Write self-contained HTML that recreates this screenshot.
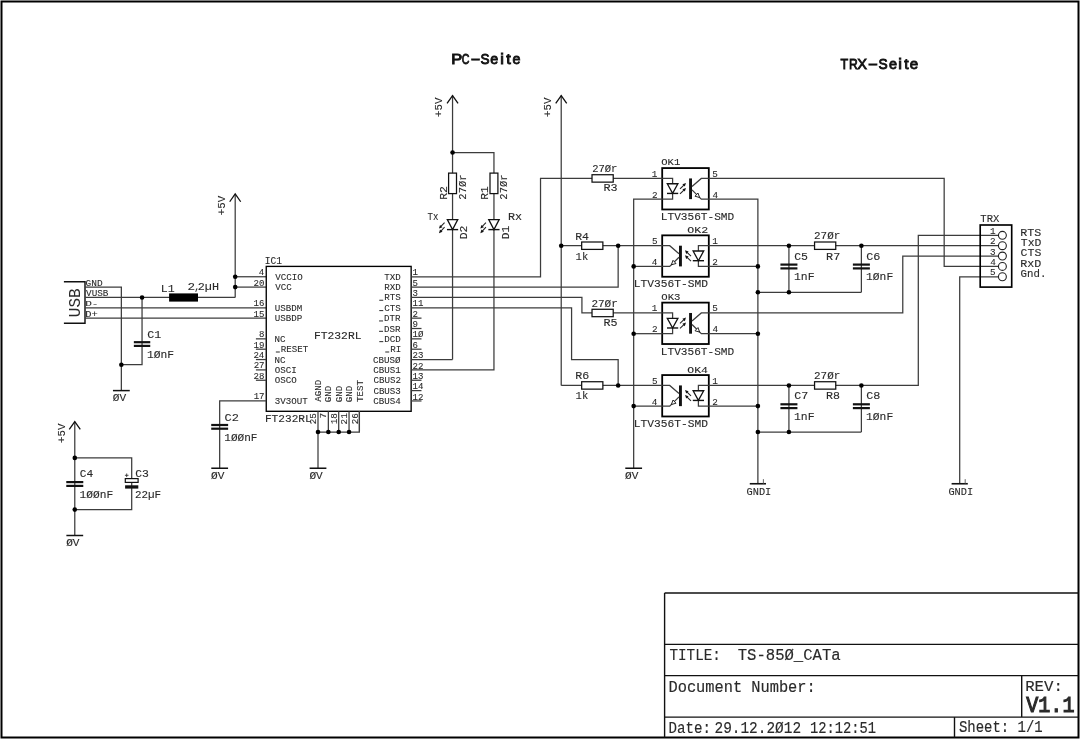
<!DOCTYPE html>
<html><head><meta charset="utf-8"><style>
html,body{margin:0;padding:0;background:#fff;width:1081px;height:740px;overflow:hidden}
svg{display:block;filter:grayscale(100%)}
</style></head><body>
<svg width="1081" height="740" viewBox="0 0 1081 740">
<rect width="1081" height="740" fill="#fff"/>
<rect x="1.5" y="1.5" width="1077" height="736" fill="none" stroke="#000" stroke-width="2"/>
<path d="M664.6 593 L1078.5 593" stroke="#111" stroke-width="1.4"/>
<path d="M664.6 593 L664.6 737.5" stroke="#111" stroke-width="1.4"/>
<path d="M664.6 644.4 L1078.5 644.4" stroke="#111" stroke-width="1.4"/>
<path d="M664.6 675.6 L1078.5 675.6" stroke="#111" stroke-width="1.4"/>
<path d="M664.6 717.1 L1078.5 717.1" stroke="#111" stroke-width="1.4"/>
<path d="M1021.7 675.6 L1021.7 717.1" stroke="#111" stroke-width="1.4"/>
<path d="M954.5 717.1 L954.5 737.5" stroke="#111" stroke-width="1.4"/>
<text transform="translate(669.47 660.3) scale(0.14306 0.16844)" font-family='"Liberation Mono"' font-weight="normal" font-size="100" fill="#2a2a2a" stroke="#2a2a2a" stroke-width="1">TITLE:</text>
<text transform="translate(737.72 660.3) scale(0.15604 0.16844)" font-family='"Liberation Mono"' font-weight="normal" font-size="100" fill="#2a2a2a" stroke="#2a2a2a" stroke-width="1">TS-85Ø_CATa</text>
<text transform="translate(668.49 691.9) scale(0.15346 0.15933)" font-family='"Liberation Mono"' font-weight="normal" font-size="100" fill="#2a2a2a" stroke="#2a2a2a" stroke-width="1">Document Number:</text>
<text transform="translate(668.58 732.6) scale(0.14151 0.15781)" font-family='"Liberation Mono"' font-weight="normal" font-size="100" fill="#2a2a2a" stroke="#2a2a2a" stroke-width="1">Date:</text>
<text transform="translate(714.48 732.6) scale(0.14437 0.15781)" font-family='"Liberation Mono"' font-weight="normal" font-size="100" fill="#2a2a2a" stroke="#2a2a2a" stroke-width="1">29.12.2Ø12</text>
<text transform="translate(810 732.6) scale(0.13782 0.15781)" font-family='"Liberation Mono"' font-weight="normal" font-size="100" fill="#2a2a2a" stroke="#2a2a2a" stroke-width="1">12:12:51</text>
<text transform="translate(958.96 732.4) scale(0.13967 0.15630)" font-family='"Liberation Mono"' font-weight="normal" font-size="100" fill="#2a2a2a" stroke="#2a2a2a" stroke-width="1">Sheet: 1/1</text>
<text transform="translate(1025.16 691.2) scale(0.15687 0.14568)" font-family='"Liberation Mono"' font-weight="normal" font-size="100" fill="#2a2a2a" stroke="#2a2a2a" stroke-width="1">REV:</text>
<text transform="translate(1026.3 711.7) scale(0.20067 0.22610)" font-family='"Liberation Mono"' font-weight="normal" font-size="100" fill="#2a2a2a" stroke="#2a2a2a" stroke-width="5">V1.1</text>
<text transform="translate(451.24 63.7) scale(0.16534 0.14826)" font-family='"Liberation Sans"' font-size="100" fill="#111" stroke="#111" stroke-width="6">P</text>
<text transform="translate(461.86 63.7) scale(0.10579 0.14826)" font-family='"Liberation Sans"' font-size="100" fill="#111" stroke="#111" stroke-width="6">C</text>
<text transform="translate(470.63 63.7) scale(0.28672 0.14826)" font-family='"Liberation Sans"' font-size="100" fill="#111" stroke="#111" stroke-width="6">-</text>
<text transform="translate(480.38 63.7) scale(0.13549 0.14826)" font-family='"Liberation Sans"' font-size="100" fill="#111" stroke="#111" stroke-width="6">S</text>
<text transform="translate(490.29 63.7) scale(0.14278 0.14826)" font-family='"Liberation Sans"' font-size="100" fill="#111" stroke="#111" stroke-width="6">e</text>
<text transform="translate(500.34 63.7) scale(0.16308 0.14826)" font-family='"Liberation Sans"' font-size="100" fill="#111" stroke="#111" stroke-width="6">i</text>
<text transform="translate(506.17 63.7) scale(0.16308 0.14826)" font-family='"Liberation Sans"' font-size="100" fill="#111" stroke="#111" stroke-width="6">t</text>
<text transform="translate(512.39 63.7) scale(0.14278 0.14826)" font-family='"Liberation Sans"' font-size="100" fill="#111" stroke="#111" stroke-width="6">e</text>
<text transform="translate(840.52 69.3) scale(0.12557 0.14971)" font-family='"Liberation Sans"' font-size="100" fill="#111" stroke="#111" stroke-width="6">T</text>
<text transform="translate(848.91 69.3) scale(0.12126 0.14971)" font-family='"Liberation Sans"' font-size="100" fill="#111" stroke="#111" stroke-width="6">R</text>
<text transform="translate(857.17 69.3) scale(0.14594 0.14971)" font-family='"Liberation Sans"' font-size="100" fill="#111" stroke="#111" stroke-width="6">X</text>
<text transform="translate(868.09 69.3) scale(0.29491 0.14971)" font-family='"Liberation Sans"' font-size="100" fill="#111" stroke="#111" stroke-width="6">-</text>
<text transform="translate(878.38 69.3) scale(0.13723 0.14971)" font-family='"Liberation Sans"' font-size="100" fill="#111" stroke="#111" stroke-width="6">S</text>
<text transform="translate(889.08 69.3) scale(0.14492 0.14971)" font-family='"Liberation Sans"' font-size="100" fill="#111" stroke="#111" stroke-width="6">e</text>
<text transform="translate(898.37 69.3) scale(0.16468 0.14971)" font-family='"Liberation Sans"' font-size="100" fill="#111" stroke="#111" stroke-width="6">i</text>
<text transform="translate(904.16 69.3) scale(0.15663 0.14971)" font-family='"Liberation Sans"' font-size="100" fill="#111" stroke="#111" stroke-width="6">t</text>
<text transform="translate(909.76 69.3) scale(0.15131 0.14971)" font-family='"Liberation Sans"' font-size="100" fill="#111" stroke="#111" stroke-width="6">e</text>
<path d="M63.9 281.7 L85 281.7 L85 323.3 L63.9 323.3" stroke="#111" stroke-width="1.45" fill="none"/>
<text transform="translate(80 316.1) rotate(-90) translate(-1.11 0) scale(0.16063 0.16085)" font-family='"Liberation Mono"' font-size="100" fill="#2a2a2a" stroke="#2a2a2a" stroke-width="0">USB</text>
<text transform="translate(85.58 285.5) scale(0.09502 0.08346)" font-family='"Liberation Mono"' font-weight="normal" font-size="100" fill="#2a2a2a" stroke="#2a2a2a" stroke-width="1">GND</text>
<text transform="translate(86.05 296.1) scale(0.09330 0.08346)" font-family='"Liberation Mono"' font-weight="normal" font-size="100" fill="#2a2a2a" stroke="#2a2a2a" stroke-width="1">VUSB</text>
<text transform="translate(85.22 306.1) scale(0.11070 0.08042)" font-family='"Liberation Mono"' font-weight="normal" font-size="100" fill="#2a2a2a" stroke="#2a2a2a" stroke-width="1">D-</text>
<text transform="translate(85.27 316.6) scale(0.10437 0.08346)" font-family='"Liberation Mono"' font-weight="normal" font-size="100" fill="#2a2a2a" stroke="#2a2a2a" stroke-width="1">D+</text>
<path d="M85.12 287.1 L121.35 287.1 L121.35 390.6" stroke="#3c3c3c" stroke-width="1.25" fill="none"/>
<path d="M112.95 390.6 L129.75 390.6" stroke="#111" stroke-width="1.5"/>
<text transform="translate(112.75 401.1) scale(0.11135 0.10470)" font-family='"Liberation Mono"' font-weight="normal" font-size="100" fill="#2a2a2a" stroke="#2a2a2a" stroke-width="1">ØV</text>
<path d="M85.12 297.45 L235.2 297.45" stroke="#3c3c3c" stroke-width="1.25" fill="none"/>
<path d="M235.2 193.95 L235.2 297.45" stroke="#3c3c3c" stroke-width="1.25" fill="none"/>
<path d="M229.7 201.75 L235.2 193.95 L240.7 201.75" stroke="#111" stroke-width="1.3" fill="none"/>
<text transform="translate(225.1 214.65) rotate(-90) translate(-0.61 0) scale(0.10758 0.10926)" font-family='"Liberation Mono"' font-size="100" fill="#2a2a2a" stroke="#2a2a2a" stroke-width="1">+5V</text>
<path d="M235.2 276.75 L266.25 276.75" stroke="#3c3c3c" stroke-width="1.25" fill="none"/>
<path d="M235.2 287.1 L266.25 287.1" stroke="#3c3c3c" stroke-width="1.25" fill="none"/>
<path d="M85.12 307.8 L266.25 307.8" stroke="#3c3c3c" stroke-width="1.25" fill="none"/>
<path d="M85.12 318.15 L266.25 318.15" stroke="#3c3c3c" stroke-width="1.25" fill="none"/>
<path d="M142.05 297.45 L142.05 364.73 L121.35 364.73" stroke="#3c3c3c" stroke-width="1.25" fill="none"/>
<rect x="133.85" y="341.1" width="16.4" height="2.2" fill="#111"/>
<rect x="133.85" y="344.8" width="16.4" height="2.2" fill="#111"/>
<text transform="translate(147.15 337.7) scale(0.11763 0.10774)" font-family='"Liberation Mono"' font-weight="normal" font-size="100" fill="#2a2a2a" stroke="#2a2a2a" stroke-width="1">C1</text>
<text transform="translate(146.98 357.9) scale(0.11294 0.10774)" font-family='"Liberation Mono"' font-weight="normal" font-size="100" fill="#2a2a2a" stroke="#2a2a2a" stroke-width="1">1ØnF</text>
<rect x="169.1" y="293.4" width="28.9" height="8.2" fill="#000"/>
<text transform="translate(160.76 291.6) scale(0.11582 0.11229)" font-family='"Liberation Mono"' font-weight="normal" font-size="100" fill="#2a2a2a" stroke="#2a2a2a" stroke-width="1">L1</text>
<text transform="translate(187.51 290.3) scale(0.12637 0.10774)" font-family='"Liberation Mono"' font-weight="normal" font-size="100" fill="#2a2a2a" stroke="#2a2a2a" stroke-width="1">2</text>
<text transform="translate(194.21 290.3) scale(0.09438 0.10774)" font-family='"Liberation Mono"' font-weight="normal" font-size="100" fill="#2a2a2a" stroke="#2a2a2a" stroke-width="1">,</text>
<text transform="translate(197.77 290.3) scale(0.11815 0.10774)" font-family='"Liberation Mono"' font-weight="normal" font-size="100" fill="#2a2a2a" stroke="#2a2a2a" stroke-width="1">2µH</text>
<rect x="266.25" y="266.4" width="144.9" height="144.9" stroke="#000" stroke-width="1.35" fill="none"/>
<text transform="translate(264.85 264.2) scale(0.09617 0.10167)" font-family='"Liberation Mono"' font-weight="normal" font-size="100" fill="#2a2a2a" stroke="#2a2a2a" stroke-width="1">IC1</text>
<text transform="translate(313.93 339.2) scale(0.11328 0.11381)" font-family='"Liberation Mono"' font-weight="normal" font-size="100" fill="#2a2a2a" stroke="#2a2a2a" stroke-width="1">FT232RL</text>
<text transform="translate(264.95 422.2) scale(0.11130 0.11077)" font-family='"Liberation Mono"' font-weight="normal" font-size="100" fill="#2a2a2a" stroke="#2a2a2a" stroke-width="1">FT232RL</text>
<text transform="translate(258.86 275.25) scale(0.09083 0.09105)" font-family='"Liberation Mono"' font-weight="normal" font-size="100" fill="#2a2a2a" stroke="#2a2a2a" stroke-width="1">4</text>
<text transform="translate(275.26 279.75) scale(0.09167 0.09256)" font-family='"Liberation Mono"' font-weight="normal" font-size="100" fill="#2a2a2a" stroke="#2a2a2a" stroke-width="1">VCCIO</text>
<text transform="translate(253.51 285.6) scale(0.09083 0.09105)" font-family='"Liberation Mono"' font-weight="normal" font-size="100" fill="#2a2a2a" stroke="#2a2a2a" stroke-width="1">20</text>
<text transform="translate(275.26 290.1) scale(0.09167 0.09256)" font-family='"Liberation Mono"' font-weight="normal" font-size="100" fill="#2a2a2a" stroke="#2a2a2a" stroke-width="1">VCC</text>
<text transform="translate(253.54 306.3) scale(0.09083 0.09105)" font-family='"Liberation Mono"' font-weight="normal" font-size="100" fill="#2a2a2a" stroke="#2a2a2a" stroke-width="1">16</text>
<text transform="translate(274.66 310.8) scale(0.09167 0.09256)" font-family='"Liberation Mono"' font-weight="normal" font-size="100" fill="#2a2a2a" stroke="#2a2a2a" stroke-width="1">USBDM</text>
<text transform="translate(253.52 316.65) scale(0.09083 0.09105)" font-family='"Liberation Mono"' font-weight="normal" font-size="100" fill="#2a2a2a" stroke="#2a2a2a" stroke-width="1">15</text>
<text transform="translate(274.66 321.15) scale(0.09167 0.09256)" font-family='"Liberation Mono"' font-weight="normal" font-size="100" fill="#2a2a2a" stroke="#2a2a2a" stroke-width="1">USBDP</text>
<path d="M255.9 338.85 L266.25 338.85" stroke="#3c3c3c" stroke-width="1.25" fill="none"/>
<text transform="translate(259 337.35) scale(0.09083 0.09105)" font-family='"Liberation Mono"' font-weight="normal" font-size="100" fill="#2a2a2a" stroke="#2a2a2a" stroke-width="1">8</text>
<text transform="translate(274.57 341.85) scale(0.09167 0.09256)" font-family='"Liberation Mono"' font-weight="normal" font-size="100" fill="#2a2a2a" stroke="#2a2a2a" stroke-width="1">NC</text>
<path d="M255.9 349.2 L266.25 349.2" stroke="#3c3c3c" stroke-width="1.25" fill="none"/>
<text transform="translate(253.58 347.7) scale(0.09083 0.09105)" font-family='"Liberation Mono"' font-weight="normal" font-size="100" fill="#2a2a2a" stroke="#2a2a2a" stroke-width="1">19</text>
<text transform="translate(275.32 352.2) scale(0.09167 0.09256)" font-family='"Liberation Mono"' font-weight="normal" font-size="100" fill="#2a2a2a" stroke="#2a2a2a" stroke-width="1"> RESET</text>
<rect x="275.85" y="351.5" width="3.96" height="1" fill="#2a2a2a"/>
<path d="M255.9 359.55 L266.25 359.55" stroke="#3c3c3c" stroke-width="1.25" fill="none"/>
<text transform="translate(253.41 358.05) scale(0.09083 0.09105)" font-family='"Liberation Mono"' font-weight="normal" font-size="100" fill="#2a2a2a" stroke="#2a2a2a" stroke-width="1">24</text>
<text transform="translate(274.57 362.55) scale(0.09167 0.09256)" font-family='"Liberation Mono"' font-weight="normal" font-size="100" fill="#2a2a2a" stroke="#2a2a2a" stroke-width="1">NC</text>
<path d="M255.9 369.9 L266.25 369.9" stroke="#3c3c3c" stroke-width="1.25" fill="none"/>
<text transform="translate(253.66 368.4) scale(0.09083 0.09105)" font-family='"Liberation Mono"' font-weight="normal" font-size="100" fill="#2a2a2a" stroke="#2a2a2a" stroke-width="1">27</text>
<text transform="translate(274.84 372.9) scale(0.09167 0.09256)" font-family='"Liberation Mono"' font-weight="normal" font-size="100" fill="#2a2a2a" stroke="#2a2a2a" stroke-width="1">OSCI</text>
<path d="M255.9 380.25 L266.25 380.25" stroke="#3c3c3c" stroke-width="1.25" fill="none"/>
<text transform="translate(253.55 378.75) scale(0.09083 0.09105)" font-family='"Liberation Mono"' font-weight="normal" font-size="100" fill="#2a2a2a" stroke="#2a2a2a" stroke-width="1">28</text>
<text transform="translate(274.84 383.25) scale(0.09167 0.09256)" font-family='"Liberation Mono"' font-weight="normal" font-size="100" fill="#2a2a2a" stroke="#2a2a2a" stroke-width="1">OSCO</text>
<text transform="translate(253.66 399.45) scale(0.09083 0.09105)" font-family='"Liberation Mono"' font-weight="normal" font-size="100" fill="#2a2a2a" stroke="#2a2a2a" stroke-width="1">17</text>
<text transform="translate(274.73 403.95) scale(0.09167 0.09256)" font-family='"Liberation Mono"' font-weight="normal" font-size="100" fill="#2a2a2a" stroke="#2a2a2a" stroke-width="1">3V3OUT</text>
<text transform="translate(412.49 275.35) scale(0.09083 0.09105)" font-family='"Liberation Mono"' font-weight="normal" font-size="100" fill="#2a2a2a" stroke="#2a2a2a" stroke-width="1">1</text>
<text transform="translate(384.26 279.75) scale(0.09167 0.09256)" font-family='"Liberation Mono"' font-weight="normal" font-size="100" fill="#2a2a2a" stroke="#2a2a2a" stroke-width="1">TXD</text>
<text transform="translate(412.58 285.7) scale(0.09083 0.09105)" font-family='"Liberation Mono"' font-weight="normal" font-size="100" fill="#2a2a2a" stroke="#2a2a2a" stroke-width="1">5</text>
<text transform="translate(384.26 290.1) scale(0.09167 0.09256)" font-family='"Liberation Mono"' font-weight="normal" font-size="100" fill="#2a2a2a" stroke="#2a2a2a" stroke-width="1">RXD</text>
<text transform="translate(412.58 296.05) scale(0.09083 0.09105)" font-family='"Liberation Mono"' font-weight="normal" font-size="100" fill="#2a2a2a" stroke="#2a2a2a" stroke-width="1">3</text>
<text transform="translate(378.75 300.45) scale(0.09167 0.09256)" font-family='"Liberation Mono"' font-weight="normal" font-size="100" fill="#2a2a2a" stroke="#2a2a2a" stroke-width="1"> RTS</text>
<rect x="379.28" y="299.75" width="3.96" height="1" fill="#2a2a2a"/>
<text transform="translate(412.49 306.4) scale(0.09083 0.09105)" font-family='"Liberation Mono"' font-weight="normal" font-size="100" fill="#2a2a2a" stroke="#2a2a2a" stroke-width="1">11</text>
<text transform="translate(378.75 310.8) scale(0.09167 0.09256)" font-family='"Liberation Mono"' font-weight="normal" font-size="100" fill="#2a2a2a" stroke="#2a2a2a" stroke-width="1"> CTS</text>
<rect x="379.28" y="310.1" width="3.96" height="1" fill="#2a2a2a"/>
<path d="M411.15 318.15 L421.5 318.15" stroke="#3c3c3c" stroke-width="1.25" fill="none"/>
<text transform="translate(412.51 316.75) scale(0.09083 0.09105)" font-family='"Liberation Mono"' font-weight="normal" font-size="100" fill="#2a2a2a" stroke="#2a2a2a" stroke-width="1">2</text>
<text transform="translate(378.53 321.15) scale(0.09167 0.09256)" font-family='"Liberation Mono"' font-weight="normal" font-size="100" fill="#2a2a2a" stroke="#2a2a2a" stroke-width="1"> DTR</text>
<rect x="379.06" y="320.45" width="3.96" height="1" fill="#2a2a2a"/>
<path d="M411.15 328.5 L421.5 328.5" stroke="#3c3c3c" stroke-width="1.25" fill="none"/>
<text transform="translate(412.52 327.1) scale(0.09083 0.09105)" font-family='"Liberation Mono"' font-weight="normal" font-size="100" fill="#2a2a2a" stroke="#2a2a2a" stroke-width="1">9</text>
<text transform="translate(378.53 331.5) scale(0.09167 0.09256)" font-family='"Liberation Mono"' font-weight="normal" font-size="100" fill="#2a2a2a" stroke="#2a2a2a" stroke-width="1"> DSR</text>
<rect x="379.06" y="330.8" width="3.96" height="1" fill="#2a2a2a"/>
<path d="M411.15 338.85 L421.5 338.85" stroke="#3c3c3c" stroke-width="1.25" fill="none"/>
<text transform="translate(412.49 337.45) scale(0.09083 0.09105)" font-family='"Liberation Mono"' font-weight="normal" font-size="100" fill="#2a2a2a" stroke="#2a2a2a" stroke-width="1">1Ø</text>
<text transform="translate(378.76 341.85) scale(0.09167 0.09256)" font-family='"Liberation Mono"' font-weight="normal" font-size="100" fill="#2a2a2a" stroke="#2a2a2a" stroke-width="1"> DCD</text>
<rect x="379.29" y="341.15" width="3.96" height="1" fill="#2a2a2a"/>
<path d="M411.15 349.2 L421.5 349.2" stroke="#3c3c3c" stroke-width="1.25" fill="none"/>
<text transform="translate(412.48 347.8) scale(0.09083 0.09105)" font-family='"Liberation Mono"' font-weight="normal" font-size="100" fill="#2a2a2a" stroke="#2a2a2a" stroke-width="1">6</text>
<text transform="translate(384.71 352.2) scale(0.09167 0.09256)" font-family='"Liberation Mono"' font-weight="normal" font-size="100" fill="#2a2a2a" stroke="#2a2a2a" stroke-width="1"> RI</text>
<rect x="385.24" y="351.5" width="3.96" height="1" fill="#2a2a2a"/>
<text transform="translate(412.51 358.15) scale(0.09083 0.09105)" font-family='"Liberation Mono"' font-weight="normal" font-size="100" fill="#2a2a2a" stroke="#2a2a2a" stroke-width="1">23</text>
<text transform="translate(373.06 362.55) scale(0.09167 0.09256)" font-family='"Liberation Mono"' font-weight="normal" font-size="100" fill="#2a2a2a" stroke="#2a2a2a" stroke-width="1">CBUSØ</text>
<text transform="translate(412.51 368.5) scale(0.09083 0.09105)" font-family='"Liberation Mono"' font-weight="normal" font-size="100" fill="#2a2a2a" stroke="#2a2a2a" stroke-width="1">22</text>
<text transform="translate(373.24 372.9) scale(0.09167 0.09256)" font-family='"Liberation Mono"' font-weight="normal" font-size="100" fill="#2a2a2a" stroke="#2a2a2a" stroke-width="1">CBUS1</text>
<path d="M411.15 380.25 L421.5 380.25" stroke="#3c3c3c" stroke-width="1.25" fill="none"/>
<text transform="translate(412.49 378.85) scale(0.09083 0.09105)" font-family='"Liberation Mono"' font-weight="normal" font-size="100" fill="#2a2a2a" stroke="#2a2a2a" stroke-width="1">13</text>
<text transform="translate(373.44 383.25) scale(0.09167 0.09256)" font-family='"Liberation Mono"' font-weight="normal" font-size="100" fill="#2a2a2a" stroke="#2a2a2a" stroke-width="1">CBUS2</text>
<path d="M411.15 390.6 L421.5 390.6" stroke="#3c3c3c" stroke-width="1.25" fill="none"/>
<text transform="translate(412.49 389.2) scale(0.09083 0.09105)" font-family='"Liberation Mono"' font-weight="normal" font-size="100" fill="#2a2a2a" stroke="#2a2a2a" stroke-width="1">14</text>
<text transform="translate(373.38 393.6) scale(0.09167 0.09256)" font-family='"Liberation Mono"' font-weight="normal" font-size="100" fill="#2a2a2a" stroke="#2a2a2a" stroke-width="1">CBUS3</text>
<path d="M411.15 400.95 L421.5 400.95" stroke="#3c3c3c" stroke-width="1.25" fill="none"/>
<text transform="translate(412.49 399.55) scale(0.09083 0.09105)" font-family='"Liberation Mono"' font-weight="normal" font-size="100" fill="#2a2a2a" stroke="#2a2a2a" stroke-width="1">12</text>
<text transform="translate(373.26 403.95) scale(0.09167 0.09256)" font-family='"Liberation Mono"' font-weight="normal" font-size="100" fill="#2a2a2a" stroke="#2a2a2a" stroke-width="1">CBUS4</text>
<path d="M318 411.3 L318 432" stroke="#3c3c3c" stroke-width="1.25" fill="none"/>
<text transform="translate(316.1 423.65) rotate(-90) translate(-0.66 0) scale(0.09333 0.09105)" font-family='"Liberation Mono"' font-size="100" fill="#2a2a2a" stroke="#2a2a2a" stroke-width="1">25</text>
<text transform="translate(321.1 401.7) rotate(-90) translate(-0 0) scale(0.09167 0.09105)" font-family='"Liberation Mono"' font-size="100" fill="#2a2a2a" stroke="#2a2a2a" stroke-width="1">AGND</text>
<path d="M328.35 411.3 L328.35 432" stroke="#3c3c3c" stroke-width="1.25" fill="none"/>
<text transform="translate(326.45 417.85) rotate(-90) translate(-0.72 0) scale(0.09333 0.09105)" font-family='"Liberation Mono"' font-size="100" fill="#2a2a2a" stroke="#2a2a2a" stroke-width="1">7</text>
<text transform="translate(331.45 401.7) rotate(-90) translate(-0.51 0) scale(0.09167 0.09105)" font-family='"Liberation Mono"' font-size="100" fill="#2a2a2a" stroke="#2a2a2a" stroke-width="1">GND</text>
<path d="M338.7 411.3 L338.7 432" stroke="#3c3c3c" stroke-width="1.25" fill="none"/>
<text transform="translate(336.8 423.61) rotate(-90) translate(-0.67 0) scale(0.09333 0.09105)" font-family='"Liberation Mono"' font-size="100" fill="#2a2a2a" stroke="#2a2a2a" stroke-width="1">18</text>
<text transform="translate(341.8 401.7) rotate(-90) translate(-0.51 0) scale(0.09167 0.09105)" font-family='"Liberation Mono"' font-size="100" fill="#2a2a2a" stroke="#2a2a2a" stroke-width="1">GND</text>
<path d="M349.05 411.3 L349.05 432" stroke="#3c3c3c" stroke-width="1.25" fill="none"/>
<text transform="translate(347.15 423.79) rotate(-90) translate(-0.66 0) scale(0.09333 0.09105)" font-family='"Liberation Mono"' font-size="100" fill="#2a2a2a" stroke="#2a2a2a" stroke-width="1">21</text>
<text transform="translate(352.15 401.7) rotate(-90) translate(-0.51 0) scale(0.09167 0.09105)" font-family='"Liberation Mono"' font-size="100" fill="#2a2a2a" stroke="#2a2a2a" stroke-width="1">GND</text>
<path d="M359.4 411.3 L359.4 432" stroke="#3c3c3c" stroke-width="1.25" fill="none"/>
<text transform="translate(357.5 423.64) rotate(-90) translate(-0.66 0) scale(0.09333 0.09105)" font-family='"Liberation Mono"' font-size="100" fill="#2a2a2a" stroke="#2a2a2a" stroke-width="1">26</text>
<text transform="translate(362.5 401.7) rotate(-90) translate(-0.34 0) scale(0.09167 0.09105)" font-family='"Liberation Mono"' font-size="100" fill="#2a2a2a" stroke="#2a2a2a" stroke-width="1">TEST</text>
<path d="M318 432 L359.4 432 L359.4 411.3" stroke="#3c3c3c" stroke-width="1.25" fill="none"/>
<path d="M318 432 L318 468.23" stroke="#3c3c3c" stroke-width="1.25" fill="none"/>
<path d="M309.6 468.23 L326.4 468.23" stroke="#111" stroke-width="1.5"/>
<text transform="translate(309.4 478.73) scale(0.11135 0.10470)" font-family='"Liberation Mono"' font-weight="normal" font-size="100" fill="#2a2a2a" stroke="#2a2a2a" stroke-width="1">ØV</text>
<path d="M266.25 400.95 L219.67 400.95 L219.67 468.23" stroke="#3c3c3c" stroke-width="1.25" fill="none"/>
<rect x="211.22" y="423.9" width="16.9" height="2.2" fill="#111"/>
<rect x="211.22" y="427.6" width="16.9" height="2.2" fill="#111"/>
<path d="M211.27 468.23 L228.07 468.23" stroke="#111" stroke-width="1.5"/>
<text transform="translate(211.07 478.73) scale(0.11135 0.10470)" font-family='"Liberation Mono"' font-weight="normal" font-size="100" fill="#2a2a2a" stroke="#2a2a2a" stroke-width="1">ØV</text>
<text transform="translate(224.44 420.7) scale(0.12009 0.11077)" font-family='"Liberation Mono"' font-weight="normal" font-size="100" fill="#2a2a2a" stroke="#2a2a2a" stroke-width="1">C2</text>
<text transform="translate(224.3 440.9) scale(0.11057 0.11077)" font-family='"Liberation Mono"' font-weight="normal" font-size="100" fill="#2a2a2a" stroke="#2a2a2a" stroke-width="1">1ØØnF</text>
<path d="M74.78 421.65 L74.78 535.5" stroke="#3c3c3c" stroke-width="1.25" fill="none"/>
<path d="M69.28 429.45 L74.78 421.65 L80.28 429.45" stroke="#111" stroke-width="1.3" fill="none"/>
<text transform="translate(64.68 442.35) rotate(-90) translate(-0.61 0) scale(0.10758 0.10926)" font-family='"Liberation Mono"' font-size="100" fill="#2a2a2a" stroke="#2a2a2a" stroke-width="1">+5V</text>
<path d="M74.78 457.88 L131.7 457.88 L131.7 509.62 L74.78 509.62" stroke="#3c3c3c" stroke-width="1.25" fill="none"/>
<rect x="66.28" y="481" width="17" height="2.2" fill="#111"/>
<rect x="66.28" y="484.8" width="17" height="2.2" fill="#111"/>
<rect x="125.3" y="478.6" width="12.8" height="3.8" fill="#fff" stroke="#111" stroke-width="1.2"/>
<rect x="125.1" y="485.3" width="13.2" height="3.3" fill="#111"/>
<path d="M124.9 475.3 H128.5 M126.7 473.5 V477.1" stroke="#333" stroke-width="0.9"/>
<path d="M66.38 535.5 L83.18 535.5" stroke="#111" stroke-width="1.5"/>
<text transform="translate(66.17 546) scale(0.11135 0.10470)" font-family='"Liberation Mono"' font-weight="normal" font-size="100" fill="#2a2a2a" stroke="#2a2a2a" stroke-width="1">ØV</text>
<text transform="translate(79.78 477.4) scale(0.11149 0.10470)" font-family='"Liberation Mono"' font-weight="normal" font-size="100" fill="#2a2a2a" stroke="#2a2a2a" stroke-width="1">C4</text>
<text transform="translate(79.59 498) scale(0.11197 0.10926)" font-family='"Liberation Mono"' font-weight="normal" font-size="100" fill="#2a2a2a" stroke="#2a2a2a" stroke-width="1">1ØØnF</text>
<text transform="translate(135.17 477.4) scale(0.11465 0.10470)" font-family='"Liberation Mono"' font-weight="normal" font-size="100" fill="#2a2a2a" stroke="#2a2a2a" stroke-width="1">C3</text>
<text transform="translate(135.03 497.8) scale(0.10886 0.10622)" font-family='"Liberation Mono"' font-weight="normal" font-size="100" fill="#2a2a2a" stroke="#2a2a2a" stroke-width="1">22µF</text>
<path d="M452.55 95.62 L452.55 359.55" stroke="#3c3c3c" stroke-width="1.25" fill="none"/>
<path d="M447.05 103.42 L452.55 95.62 L458.05 103.42" stroke="#111" stroke-width="1.3" fill="none"/>
<text transform="translate(442.45 116.33) rotate(-90) translate(-0.61 0) scale(0.10758 0.10926)" font-family='"Liberation Mono"' font-size="100" fill="#2a2a2a" stroke="#2a2a2a" stroke-width="1">+5V</text>
<path d="M452.55 359.55 L411.15 359.55" stroke="#3c3c3c" stroke-width="1.25" fill="none"/>
<path d="M452.55 152.55 L493.95 152.55 L493.95 369.9 L411.15 369.9" stroke="#3c3c3c" stroke-width="1.25" fill="none"/>
<rect x="448.6" y="173.1" width="7.9" height="20.5" fill="#fff" stroke="#111" stroke-width="1.25"/>
<path d="M447.35 219.6 H457.75 L452.55 229.6 Z" fill="#fff" stroke="#111" stroke-width="1.3"/>
<path d="M446.95 229.6 L458.15 229.6" stroke="#111" stroke-width="1.4"/>
<path d="M444.55 222.6 L440.93 226.48" stroke="#222" stroke-width="1.05"/>
<path d="M438.95 228.6 L440.03 224.95 L442.51 227.27 Z" fill="#111"/>
<path d="M444.55 227.2 L440.93 231.08" stroke="#222" stroke-width="1.05"/>
<path d="M438.95 233.2 L440.03 229.55 L442.51 231.87 Z" fill="#111"/>
<rect x="490" y="173.1" width="7.9" height="20.5" fill="#fff" stroke="#111" stroke-width="1.25"/>
<path d="M488.75 219.6 H499.15 L493.95 229.6 Z" fill="#fff" stroke="#111" stroke-width="1.3"/>
<path d="M488.35 229.6 L499.55 229.6" stroke="#111" stroke-width="1.4"/>
<path d="M485.95 222.6 L482.33 226.48" stroke="#222" stroke-width="1.05"/>
<path d="M480.35 228.6 L481.43 224.95 L483.91 227.27 Z" fill="#111"/>
<path d="M485.95 227.2 L482.33 231.08" stroke="#222" stroke-width="1.05"/>
<path d="M480.35 233.2 L481.43 229.55 L483.91 231.87 Z" fill="#111"/>
<text transform="translate(447 198.9) rotate(-90) translate(-0.91 0) scale(0.11521 0.10622)" font-family='"Liberation Mono"' font-size="100" fill="#2a2a2a" stroke="#2a2a2a" stroke-width="1">R2</text>
<text transform="translate(466 198.9) rotate(-90) translate(-0.74 0) scale(0.10490 0.11229)" font-family='"Liberation Mono"' font-size="100" fill="#2a2a2a" stroke="#2a2a2a" stroke-width="1">27Ør</text>
<text transform="translate(487.7 198.9) rotate(-90) translate(-0.89 0) scale(0.11279 0.10774)" font-family='"Liberation Mono"' font-size="100" fill="#2a2a2a" stroke="#2a2a2a" stroke-width="1">R1</text>
<text transform="translate(507 198.9) rotate(-90) translate(-0.74 0) scale(0.10490 0.10622)" font-family='"Liberation Mono"' font-size="100" fill="#2a2a2a" stroke="#2a2a2a" stroke-width="1">27Ør</text>
<text transform="translate(427.56 219.6) scale(0.09048 0.10774)" font-family='"Liberation Mono"' font-weight="normal" font-size="100" fill="#2a2a2a" stroke="#2a2a2a" stroke-width="1">Tx</text>
<text transform="translate(508.07 219.6) scale(0.11729 0.10774)" font-family='"Liberation Mono"' font-weight="normal" font-size="100" fill="#2a2a2a" stroke="#2a2a2a" stroke-width="1">Rx</text>
<text transform="translate(467 238.4) rotate(-90) translate(-0.9 0) scale(0.11425 0.11684)" font-family='"Liberation Mono"' font-size="100" fill="#2a2a2a" stroke="#2a2a2a" stroke-width="1">D2</text>
<text transform="translate(508.8 238.4) rotate(-90) translate(-0.88 0) scale(0.11186 0.11836)" font-family='"Liberation Mono"' font-size="100" fill="#2a2a2a" stroke="#2a2a2a" stroke-width="1">D1</text>
<rect x="662.2" y="168.07" width="46.6" height="41.4" stroke="#000" stroke-width="1.8" fill="none"/>
<path d="M662.2 178.43 L672.6 178.43 L672.6 199.12 L662.2 199.12" stroke="#3c3c3c" stroke-width="1.25" fill="none"/>
<path d="M667.3 183.73 H677.9 L672.6 193.43 Z" fill="#fff" stroke="#111" stroke-width="1.3"/>
<path d="M667 193.43 L678.2 193.43" stroke="#111" stroke-width="1.4"/>
<path d="M680 188.93 L683.93 185.06" stroke="#222" stroke-width="1.05"/>
<path d="M686 183.03 L684.77 186.62 L682.38 184.2 Z" fill="#111"/>
<path d="M680 193.93 L683.93 190.06" stroke="#222" stroke-width="1.05"/>
<path d="M686 188.03 L684.77 191.62 L682.38 189.2 Z" fill="#111"/>
<rect x="689.1" y="178.43" width="2.9" height="20.7" fill="#111"/>
<path d="M692 186.53 L701.3 178.43 L708.8 178.43" stroke="#3c3c3c" stroke-width="1.25" fill="none"/>
<path d="M692 189.93 L701.3 199.12 L708.8 199.12" stroke="#3c3c3c" stroke-width="1.25" fill="none"/>
<path d="M699.6 197.53 L695 196.22 L698 193.03 Z" fill="#fff" stroke="#111" stroke-width="0.9"/>
<text transform="translate(651.75 176.93) scale(0.09333 0.08649)" font-family='"Liberation Mono"' font-weight="normal" font-size="100" fill="#2a2a2a" stroke="#2a2a2a" stroke-width="1">1</text>
<text transform="translate(651.96 197.62) scale(0.09333 0.08649)" font-family='"Liberation Mono"' font-weight="normal" font-size="100" fill="#2a2a2a" stroke="#2a2a2a" stroke-width="1">2</text>
<text transform="translate(712.32 176.93) scale(0.09333 0.08649)" font-family='"Liberation Mono"' font-weight="normal" font-size="100" fill="#2a2a2a" stroke="#2a2a2a" stroke-width="1">5</text>
<text transform="translate(712.43 197.62) scale(0.09333 0.08649)" font-family='"Liberation Mono"' font-weight="normal" font-size="100" fill="#2a2a2a" stroke="#2a2a2a" stroke-width="1">4</text>
<text transform="translate(661.27 165.47) scale(0.10575 0.09408)" font-family='"Liberation Mono"' font-weight="normal" font-size="100" fill="#2a2a2a" stroke="#2a2a2a" stroke-width="1">OK1</text>
<text transform="translate(660.81 220.18) scale(0.11127 0.10167)" font-family='"Liberation Mono"' font-weight="normal" font-size="100" fill="#2a2a2a" stroke="#2a2a2a" stroke-width="1">LTV356T-SMD</text>
<rect x="662.2" y="235.35" width="46.6" height="41.4" stroke="#000" stroke-width="1.8" fill="none"/>
<path d="M708.8 245.7 L698.4 245.7 L698.4 266.4 L708.8 266.4" stroke="#3c3c3c" stroke-width="1.25" fill="none"/>
<path d="M693.1 251 H703.7 L698.4 260.7 Z" fill="#fff" stroke="#111" stroke-width="1.3"/>
<path d="M692.8 260.7 L704 260.7" stroke="#111" stroke-width="1.4"/>
<path d="M691 256.2 L687.07 252.33" stroke="#222" stroke-width="1.05"/>
<path d="M685 250.3 L688.62 251.47 L686.23 253.9 Z" fill="#111"/>
<path d="M691 261.2 L687.07 257.33" stroke="#222" stroke-width="1.05"/>
<path d="M685 255.3 L688.62 256.47 L686.23 258.9 Z" fill="#111"/>
<rect x="679" y="245.7" width="2.9" height="20.7" fill="#111"/>
<path d="M679 253.8 L669.7 245.7 L662.2 245.7" stroke="#3c3c3c" stroke-width="1.25" fill="none"/>
<path d="M679 257.2 L669.7 266.4 L662.2 266.4" stroke="#3c3c3c" stroke-width="1.25" fill="none"/>
<path d="M671.4 264.8 L676 263.5 L673 260.3 Z" fill="#fff" stroke="#111" stroke-width="0.9"/>
<text transform="translate(651.89 244.2) scale(0.09333 0.08649)" font-family='"Liberation Mono"' font-weight="normal" font-size="100" fill="#2a2a2a" stroke="#2a2a2a" stroke-width="1">5</text>
<text transform="translate(651.77 264.9) scale(0.09333 0.08649)" font-family='"Liberation Mono"' font-weight="normal" font-size="100" fill="#2a2a2a" stroke="#2a2a2a" stroke-width="1">4</text>
<text transform="translate(712.23 244.2) scale(0.09333 0.08649)" font-family='"Liberation Mono"' font-weight="normal" font-size="100" fill="#2a2a2a" stroke="#2a2a2a" stroke-width="1">1</text>
<text transform="translate(712.24 264.9) scale(0.09333 0.08649)" font-family='"Liberation Mono"' font-weight="normal" font-size="100" fill="#2a2a2a" stroke="#2a2a2a" stroke-width="1">2</text>
<text transform="translate(687.32 232.95) scale(0.11609 0.09712)" font-family='"Liberation Mono"' font-weight="normal" font-size="100" fill="#2a2a2a" stroke="#2a2a2a" stroke-width="1">OK2</text>
<text transform="translate(633.8 287.15) scale(0.11236 0.10167)" font-family='"Liberation Mono"' font-weight="normal" font-size="100" fill="#2a2a2a" stroke="#2a2a2a" stroke-width="1">LTV356T-SMD</text>
<rect x="662.2" y="302.62" width="46.6" height="41.4" stroke="#000" stroke-width="1.8" fill="none"/>
<path d="M662.2 312.98 L672.6 312.98 L672.6 333.68 L662.2 333.68" stroke="#3c3c3c" stroke-width="1.25" fill="none"/>
<path d="M667.3 318.28 H677.9 L672.6 327.98 Z" fill="#fff" stroke="#111" stroke-width="1.3"/>
<path d="M667 327.98 L678.2 327.98" stroke="#111" stroke-width="1.4"/>
<path d="M680 323.48 L683.93 319.61" stroke="#222" stroke-width="1.05"/>
<path d="M686 317.58 L684.77 321.17 L682.38 318.75 Z" fill="#111"/>
<path d="M680 328.48 L683.93 324.61" stroke="#222" stroke-width="1.05"/>
<path d="M686 322.58 L684.77 326.17 L682.38 323.75 Z" fill="#111"/>
<rect x="689.1" y="312.98" width="2.9" height="20.7" fill="#111"/>
<path d="M692 321.08 L701.3 312.98 L708.8 312.98" stroke="#3c3c3c" stroke-width="1.25" fill="none"/>
<path d="M692 324.48 L701.3 333.68 L708.8 333.68" stroke="#3c3c3c" stroke-width="1.25" fill="none"/>
<path d="M699.6 332.07 L695 330.77 L698 327.57 Z" fill="#fff" stroke="#111" stroke-width="0.9"/>
<text transform="translate(651.75 311.48) scale(0.09333 0.08649)" font-family='"Liberation Mono"' font-weight="normal" font-size="100" fill="#2a2a2a" stroke="#2a2a2a" stroke-width="1">1</text>
<text transform="translate(651.96 332.18) scale(0.09333 0.08649)" font-family='"Liberation Mono"' font-weight="normal" font-size="100" fill="#2a2a2a" stroke="#2a2a2a" stroke-width="1">2</text>
<text transform="translate(712.32 311.48) scale(0.09333 0.08649)" font-family='"Liberation Mono"' font-weight="normal" font-size="100" fill="#2a2a2a" stroke="#2a2a2a" stroke-width="1">5</text>
<text transform="translate(712.43 332.18) scale(0.09333 0.08649)" font-family='"Liberation Mono"' font-weight="normal" font-size="100" fill="#2a2a2a" stroke="#2a2a2a" stroke-width="1">4</text>
<text transform="translate(661.27 300.02) scale(0.10670 0.09408)" font-family='"Liberation Mono"' font-weight="normal" font-size="100" fill="#2a2a2a" stroke="#2a2a2a" stroke-width="1">OK3</text>
<text transform="translate(660.81 354.72) scale(0.11127 0.10167)" font-family='"Liberation Mono"' font-weight="normal" font-size="100" fill="#2a2a2a" stroke="#2a2a2a" stroke-width="1">LTV356T-SMD</text>
<rect x="662.2" y="375.07" width="46.6" height="41.4" stroke="#000" stroke-width="1.8" fill="none"/>
<path d="M708.8 385.43 L698.4 385.43 L698.4 406.12 L708.8 406.12" stroke="#3c3c3c" stroke-width="1.25" fill="none"/>
<path d="M693.1 390.73 H703.7 L698.4 400.43 Z" fill="#fff" stroke="#111" stroke-width="1.3"/>
<path d="M692.8 400.43 L704 400.43" stroke="#111" stroke-width="1.4"/>
<path d="M691 395.93 L687.07 392.06" stroke="#222" stroke-width="1.05"/>
<path d="M685 390.03 L688.62 391.2 L686.23 393.62 Z" fill="#111"/>
<path d="M691 400.93 L687.07 397.06" stroke="#222" stroke-width="1.05"/>
<path d="M685 395.03 L688.62 396.2 L686.23 398.62 Z" fill="#111"/>
<rect x="679" y="385.43" width="2.9" height="20.7" fill="#111"/>
<path d="M679 393.53 L669.7 385.43 L662.2 385.43" stroke="#3c3c3c" stroke-width="1.25" fill="none"/>
<path d="M679 396.93 L669.7 406.12 L662.2 406.12" stroke="#3c3c3c" stroke-width="1.25" fill="none"/>
<path d="M671.4 404.52 L676 403.22 L673 400.02 Z" fill="#fff" stroke="#111" stroke-width="0.9"/>
<text transform="translate(651.89 383.93) scale(0.09333 0.08649)" font-family='"Liberation Mono"' font-weight="normal" font-size="100" fill="#2a2a2a" stroke="#2a2a2a" stroke-width="1">5</text>
<text transform="translate(651.77 404.62) scale(0.09333 0.08649)" font-family='"Liberation Mono"' font-weight="normal" font-size="100" fill="#2a2a2a" stroke="#2a2a2a" stroke-width="1">4</text>
<text transform="translate(712.23 383.93) scale(0.09333 0.08649)" font-family='"Liberation Mono"' font-weight="normal" font-size="100" fill="#2a2a2a" stroke="#2a2a2a" stroke-width="1">1</text>
<text transform="translate(712.24 404.62) scale(0.09333 0.08649)" font-family='"Liberation Mono"' font-weight="normal" font-size="100" fill="#2a2a2a" stroke="#2a2a2a" stroke-width="1">2</text>
<text transform="translate(687.33 372.68) scale(0.11473 0.09712)" font-family='"Liberation Mono"' font-weight="normal" font-size="100" fill="#2a2a2a" stroke="#2a2a2a" stroke-width="1">OK4</text>
<text transform="translate(633.8 426.88) scale(0.11236 0.10167)" font-family='"Liberation Mono"' font-weight="normal" font-size="100" fill="#2a2a2a" stroke="#2a2a2a" stroke-width="1">LTV356T-SMD</text>
<path d="M411.15 276.75 L540.52 276.75 L540.52 178.43 L662.14 178.43" stroke="#3c3c3c" stroke-width="1.25" fill="none"/>
<rect x="592.02" y="174.73" width="21.2" height="7.4" fill="#fff" stroke="#111" stroke-width="1.25"/>
<path d="M561.22 95.62 L561.22 385.43" stroke="#3c3c3c" stroke-width="1.25" fill="none"/>
<path d="M555.72 103.42 L561.22 95.62 L566.72 103.42" stroke="#111" stroke-width="1.3" fill="none"/>
<text transform="translate(551.12 116.33) rotate(-90) translate(-0.61 0) scale(0.10758 0.10926)" font-family='"Liberation Mono"' font-size="100" fill="#2a2a2a" stroke="#2a2a2a" stroke-width="1">+5V</text>
<path d="M561.22 385.43 L662.14 385.43" stroke="#3c3c3c" stroke-width="1.25" fill="none"/>
<rect x="581.67" y="381.73" width="21.2" height="7.4" fill="#fff" stroke="#111" stroke-width="1.25"/>
<path d="M561.22 245.7 L662.14 245.7" stroke="#3c3c3c" stroke-width="1.25" fill="none"/>
<rect x="581.67" y="242" width="21.2" height="7.4" fill="#fff" stroke="#111" stroke-width="1.25"/>
<path d="M618.15 245.7 L618.15 287.1 L411.15 287.1" stroke="#3c3c3c" stroke-width="1.25" fill="none"/>
<path d="M411.15 297.45 L581.92 297.45 L581.92 312.98 L662.14 312.98" stroke="#3c3c3c" stroke-width="1.25" fill="none"/>
<rect x="592.02" y="309.28" width="21.2" height="7.4" fill="#fff" stroke="#111" stroke-width="1.25"/>
<path d="M411.15 307.8 L571.58 307.8 L571.58 359.55 L618.15 359.55 L618.15 385.43" stroke="#3c3c3c" stroke-width="1.25" fill="none"/>
<path d="M662.14 199.12 L633.67 199.12 L633.67 468.23" stroke="#3c3c3c" stroke-width="1.25" fill="none"/>
<path d="M633.67 266.4 L662.14 266.4" stroke="#3c3c3c" stroke-width="1.25" fill="none"/>
<path d="M633.67 333.68 L662.14 333.68" stroke="#3c3c3c" stroke-width="1.25" fill="none"/>
<path d="M633.67 406.12 L662.14 406.12" stroke="#3c3c3c" stroke-width="1.25" fill="none"/>
<path d="M625.27 468.23 L642.07 468.23" stroke="#111" stroke-width="1.5"/>
<text transform="translate(625.07 478.73) scale(0.11135 0.10470)" font-family='"Liberation Mono"' font-weight="normal" font-size="100" fill="#2a2a2a" stroke="#2a2a2a" stroke-width="1">ØV</text>
<text transform="translate(592.16 172.1) scale(0.10535 0.10470)" font-family='"Liberation Mono"' font-weight="normal" font-size="100" fill="#2a2a2a" stroke="#2a2a2a" stroke-width="1">27Ør</text>
<text transform="translate(603.47 191.3) scale(0.11819 0.10470)" font-family='"Liberation Mono"' font-weight="normal" font-size="100" fill="#2a2a2a" stroke="#2a2a2a" stroke-width="1">R3</text>
<text transform="translate(591.43 307) scale(0.10981 0.10774)" font-family='"Liberation Mono"' font-weight="normal" font-size="100" fill="#2a2a2a" stroke="#2a2a2a" stroke-width="1">27Ør</text>
<text transform="translate(603.47 326.4) scale(0.11724 0.10167)" font-family='"Liberation Mono"' font-weight="normal" font-size="100" fill="#2a2a2a" stroke="#2a2a2a" stroke-width="1">R5</text>
<text transform="translate(575.19 239.6) scale(0.11492 0.10319)" font-family='"Liberation Mono"' font-weight="normal" font-size="100" fill="#2a2a2a" stroke="#2a2a2a" stroke-width="1">R4</text>
<text transform="translate(575.54 259.5) scale(0.10583 0.10470)" font-family='"Liberation Mono"' font-weight="normal" font-size="100" fill="#2a2a2a" stroke="#2a2a2a" stroke-width="1">1k</text>
<text transform="translate(575.18 379.3) scale(0.11646 0.10319)" font-family='"Liberation Mono"' font-weight="normal" font-size="100" fill="#2a2a2a" stroke="#2a2a2a" stroke-width="1">R6</text>
<text transform="translate(575.54 399.2) scale(0.10583 0.10470)" font-family='"Liberation Mono"' font-weight="normal" font-size="100" fill="#2a2a2a" stroke="#2a2a2a" stroke-width="1">1k</text>
<path d="M708.71 178.43 L944.17 178.43 L944.17 266.4 L998.51 266.4" stroke="#3c3c3c" stroke-width="1.25" fill="none"/>
<path d="M708.71 199.12 L757.88 199.12 L757.88 483.75" stroke="#3c3c3c" stroke-width="1.25" fill="none"/>
<path d="M708.71 245.7 L998.51 245.7" stroke="#3c3c3c" stroke-width="1.25" fill="none"/>
<rect x="814.55" y="242" width="21.2" height="7.4" fill="#fff" stroke="#111" stroke-width="1.25"/>
<path d="M708.71 266.4 L757.88 266.4" stroke="#3c3c3c" stroke-width="1.25" fill="none"/>
<path d="M788.92 245.7 L788.92 292.27" stroke="#3c3c3c" stroke-width="1.25" fill="none"/>
<path d="M861.38 245.7 L861.38 292.27" stroke="#3c3c3c" stroke-width="1.25" fill="none"/>
<path d="M757.88 292.27 L861.38 292.27" stroke="#3c3c3c" stroke-width="1.25" fill="none"/>
<rect x="780.42" y="263.5" width="17" height="2.2" fill="#111"/>
<rect x="780.42" y="267.3" width="17" height="2.2" fill="#111"/>
<rect x="852.88" y="263.5" width="17" height="2.2" fill="#111"/>
<rect x="852.88" y="267.3" width="17" height="2.2" fill="#111"/>
<path d="M708.71 312.98 L902.77 312.98 L902.77 256.05 L998.51 256.05" stroke="#3c3c3c" stroke-width="1.25" fill="none"/>
<path d="M708.71 333.68 L757.88 333.68" stroke="#3c3c3c" stroke-width="1.25" fill="none"/>
<path d="M708.71 385.43 L918.3 385.43 L918.3 235.35 L998.51 235.35" stroke="#3c3c3c" stroke-width="1.25" fill="none"/>
<rect x="814.55" y="381.73" width="21.2" height="7.4" fill="#fff" stroke="#111" stroke-width="1.25"/>
<path d="M788.92 385.43 L788.92 432" stroke="#3c3c3c" stroke-width="1.25" fill="none"/>
<path d="M861.38 385.43 L861.38 432" stroke="#3c3c3c" stroke-width="1.25" fill="none"/>
<path d="M757.88 432 L861.38 432" stroke="#3c3c3c" stroke-width="1.25" fill="none"/>
<rect x="780.42" y="403.2" width="17" height="2.2" fill="#111"/>
<rect x="780.42" y="407" width="17" height="2.2" fill="#111"/>
<rect x="852.88" y="403.2" width="17" height="2.2" fill="#111"/>
<rect x="852.88" y="407" width="17" height="2.2" fill="#111"/>
<path d="M708.71 406.12 L757.88 406.12" stroke="#3c3c3c" stroke-width="1.25" fill="none"/>
<path d="M998.51 276.75 L959.7 276.75 L959.7 483.75" stroke="#3c3c3c" stroke-width="1.25" fill="none"/>
<path d="M749.77 483.75 L765.98 483.75" stroke="#111" stroke-width="1.6"/>
<path d="M763.38 479.15 L763.38 483.75" stroke="#555" stroke-width="0.9"/>
<text transform="translate(746.61 494.55) scale(0.10287 0.11381)" font-family='"Liberation Mono"' font-weight="normal" font-size="100" fill="#2a2a2a" stroke="#2a2a2a" stroke-width="1">GNDI</text>
<path d="M951.6 483.75 L967.8 483.75" stroke="#111" stroke-width="1.6"/>
<path d="M965.2 479.15 L965.2 483.75" stroke="#555" stroke-width="0.9"/>
<text transform="translate(948.43 494.55) scale(0.10287 0.11381)" font-family='"Liberation Mono"' font-weight="normal" font-size="100" fill="#2a2a2a" stroke="#2a2a2a" stroke-width="1">GNDI</text>
<text transform="translate(814.03 239.4) scale(0.10936 0.10622)" font-family='"Liberation Mono"' font-weight="normal" font-size="100" fill="#2a2a2a" stroke="#2a2a2a" stroke-width="1">27Ør</text>
<text transform="translate(826.07 259.6) scale(0.11793 0.10926)" font-family='"Liberation Mono"' font-weight="normal" font-size="100" fill="#2a2a2a" stroke="#2a2a2a" stroke-width="1">R7</text>
<text transform="translate(794.16 259.6) scale(0.11558 0.10926)" font-family='"Liberation Mono"' font-weight="normal" font-size="100" fill="#2a2a2a" stroke="#2a2a2a" stroke-width="1">C5</text>
<text transform="translate(793.98 280.3) scale(0.11401 0.10470)" font-family='"Liberation Mono"' font-weight="normal" font-size="100" fill="#2a2a2a" stroke="#2a2a2a" stroke-width="1">1nF</text>
<text transform="translate(866.25 259.6) scale(0.11851 0.10926)" font-family='"Liberation Mono"' font-weight="normal" font-size="100" fill="#2a2a2a" stroke="#2a2a2a" stroke-width="1">C6</text>
<text transform="translate(866.08 280.3) scale(0.11294 0.10470)" font-family='"Liberation Mono"' font-weight="normal" font-size="100" fill="#2a2a2a" stroke="#2a2a2a" stroke-width="1">1ØnF</text>
<text transform="translate(814.03 379.1) scale(0.10936 0.10622)" font-family='"Liberation Mono"' font-weight="normal" font-size="100" fill="#2a2a2a" stroke="#2a2a2a" stroke-width="1">27Ør</text>
<text transform="translate(826.08 399.3) scale(0.11657 0.10926)" font-family='"Liberation Mono"' font-weight="normal" font-size="100" fill="#2a2a2a" stroke="#2a2a2a" stroke-width="1">R8</text>
<text transform="translate(794.15 399.3) scale(0.11716 0.10926)" font-family='"Liberation Mono"' font-weight="normal" font-size="100" fill="#2a2a2a" stroke="#2a2a2a" stroke-width="1">C7</text>
<text transform="translate(793.98 420) scale(0.11401 0.10470)" font-family='"Liberation Mono"' font-weight="normal" font-size="100" fill="#2a2a2a" stroke="#2a2a2a" stroke-width="1">1nF</text>
<text transform="translate(866.25 399.3) scale(0.11862 0.10926)" font-family='"Liberation Mono"' font-weight="normal" font-size="100" fill="#2a2a2a" stroke="#2a2a2a" stroke-width="1">C8</text>
<text transform="translate(866.08 420) scale(0.11294 0.10470)" font-family='"Liberation Mono"' font-weight="normal" font-size="100" fill="#2a2a2a" stroke="#2a2a2a" stroke-width="1">1ØnF</text>
<rect x="980.2" y="225" width="31.5" height="62.1" stroke="#000" stroke-width="1.65" fill="none"/>
<text transform="translate(980.31 222.4) scale(0.10541 0.10774)" font-family='"Liberation Mono"' font-weight="normal" font-size="100" fill="#2a2a2a" stroke="#2a2a2a" stroke-width="1">TRX</text>
<circle cx="1002.4" cy="235.35" r="3.95" fill="#fff" stroke="#222" stroke-width="1.1"/>
<text transform="translate(989.93 233.95) scale(0.09333 0.09105)" font-family='"Liberation Mono"' font-weight="normal" font-size="100" fill="#2a2a2a" stroke="#2a2a2a" stroke-width="1">1</text>
<text transform="translate(1020.27 235.55) scale(0.11723 0.10774)" font-family='"Liberation Mono"' font-weight="normal" font-size="100" fill="#2a2a2a" stroke="#2a2a2a" stroke-width="1">RTS</text>
<circle cx="1002.4" cy="245.7" r="3.95" fill="#fff" stroke="#222" stroke-width="1.1"/>
<text transform="translate(989.94 244.3) scale(0.09333 0.09105)" font-family='"Liberation Mono"' font-weight="normal" font-size="100" fill="#2a2a2a" stroke="#2a2a2a" stroke-width="1">2</text>
<text transform="translate(1020.78 245.9) scale(0.11446 0.10774)" font-family='"Liberation Mono"' font-weight="normal" font-size="100" fill="#2a2a2a" stroke="#2a2a2a" stroke-width="1">TxD</text>
<circle cx="1002.4" cy="256.05" r="3.95" fill="#fff" stroke="#222" stroke-width="1.1"/>
<text transform="translate(990.02 254.65) scale(0.09333 0.09105)" font-family='"Liberation Mono"' font-weight="normal" font-size="100" fill="#2a2a2a" stroke="#2a2a2a" stroke-width="1">3</text>
<text transform="translate(1020.56 256.25) scale(0.11558 0.10774)" font-family='"Liberation Mono"' font-weight="normal" font-size="100" fill="#2a2a2a" stroke="#2a2a2a" stroke-width="1">CTS</text>
<circle cx="1002.4" cy="266.4" r="3.95" fill="#fff" stroke="#222" stroke-width="1.1"/>
<text transform="translate(990.13 265) scale(0.09333 0.09105)" font-family='"Liberation Mono"' font-weight="normal" font-size="100" fill="#2a2a2a" stroke="#2a2a2a" stroke-width="1">4</text>
<text transform="translate(1020.27 266.6) scale(0.11734 0.10774)" font-family='"Liberation Mono"' font-weight="normal" font-size="100" fill="#2a2a2a" stroke="#2a2a2a" stroke-width="1">RxD</text>
<circle cx="1002.4" cy="276.75" r="3.95" fill="#fff" stroke="#222" stroke-width="1.1"/>
<text transform="translate(990.02 275.35) scale(0.09333 0.09105)" font-family='"Liberation Mono"' font-weight="normal" font-size="100" fill="#2a2a2a" stroke="#2a2a2a" stroke-width="1">5</text>
<text transform="translate(1020.61 276.95) scale(0.10751 0.10774)" font-family='"Liberation Mono"' font-weight="normal" font-size="100" fill="#2a2a2a" stroke="#2a2a2a" stroke-width="1">Gnd.</text>
<circle cx="121.35" cy="364.73" r="2.3" fill="#000"/>
<circle cx="235.2" cy="276.75" r="2.3" fill="#000"/>
<circle cx="235.2" cy="287.1" r="2.3" fill="#000"/>
<circle cx="142.05" cy="297.45" r="2.3" fill="#000"/>
<circle cx="318" cy="432" r="2.3" fill="#000"/>
<circle cx="328.35" cy="432" r="2.3" fill="#000"/>
<circle cx="338.7" cy="432" r="2.3" fill="#000"/>
<circle cx="349.05" cy="432" r="2.3" fill="#000"/>
<circle cx="74.78" cy="457.88" r="2.3" fill="#000"/>
<circle cx="74.78" cy="509.62" r="2.3" fill="#000"/>
<circle cx="452.55" cy="152.55" r="2.3" fill="#000"/>
<circle cx="561.22" cy="245.7" r="2.3" fill="#000"/>
<circle cx="618.15" cy="245.7" r="2.3" fill="#000"/>
<circle cx="618.15" cy="385.43" r="2.3" fill="#000"/>
<circle cx="633.67" cy="266.4" r="2.3" fill="#000"/>
<circle cx="633.67" cy="333.68" r="2.3" fill="#000"/>
<circle cx="633.67" cy="406.12" r="2.3" fill="#000"/>
<circle cx="757.88" cy="266.4" r="2.3" fill="#000"/>
<circle cx="757.88" cy="292.27" r="2.3" fill="#000"/>
<circle cx="757.88" cy="333.68" r="2.3" fill="#000"/>
<circle cx="757.88" cy="406.12" r="2.3" fill="#000"/>
<circle cx="757.88" cy="432" r="2.3" fill="#000"/>
<circle cx="788.92" cy="245.7" r="2.3" fill="#000"/>
<circle cx="861.38" cy="245.7" r="2.3" fill="#000"/>
<circle cx="788.92" cy="292.27" r="2.3" fill="#000"/>
<circle cx="788.92" cy="385.43" r="2.3" fill="#000"/>
<circle cx="861.38" cy="385.43" r="2.3" fill="#000"/>
<circle cx="788.92" cy="432" r="2.3" fill="#000"/>
</svg></body></html>
